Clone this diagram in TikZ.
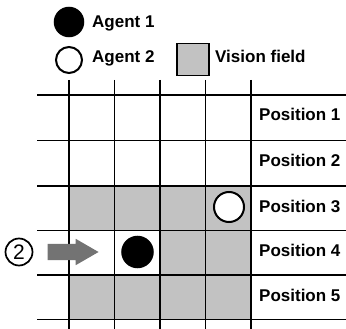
\documentclass[tikz,border=0pt]{standalone}
\usepackage{fontspec}
\setmainfont{Liberation Sans}
\usetikzlibrary{positioning,shapes.arrows}

\begin{document}
\begin{tikzpicture}[x=1pt, y=-1pt,
  label/.style={font=\fontsize{17}{19}\selectfont\bfseries, inner sep=0pt, anchor=base west},
  agentA/.style={circle, fill=black, draw=black, line width=1.5pt, inner sep=0pt},
  agentB/.style={circle, fill=white, draw=black, line width=2pt, inner sep=0pt},
  seen/.style={fill=black!24},
  gridline/.style={line width=1.4pt}
  ]
  \useasboundingbox (0,0) rectangle (346,329);
  % legend
  \node[agentA, minimum size=29pt] (leg1) at (69,22) {};
  \node[label] (legtxt1) at (92,28) {Agent 1};
  \node[agentB, minimum size=26pt] (leg2) at (69,60) {};
  \node[label] (legtxt2) at (92,63) {Agent 2};
  \node[seen, draw, line width=1.5pt, minimum size=32pt, inner sep=0pt] (legbox) at (193,59.5) {};
  \node[label] (legtxt3) at (215,63) {Vision field};
  % vision field
  \fill[seen] (69,186) rectangle (251,230.5);
  \fill[seen] (160,230.5) rectangle (251,275);
  \fill[seen] (69,275) rectangle (251,319.5);
  % grid
  \foreach \y in {95,140.5,186,230.5,275,319.5}
    \draw[gridline] (37,\y) -- (346,\y);
  \foreach \x in {69,114.5,160,205.5,251}
    \draw[gridline] (\x,80) -- (\x,329);
  \foreach \i/\y in {1/121,2/166.5,3/212,4/256.5,5/301}
    \node[label] (pos\i) at (259,\y) {Position \i};
  % agents
  \node[agentA, minimum size=31pt] (ag1) at (137.5,252) {};
  \node[agentB, minimum size=30pt] (ag2) at (229,207) {};
  % step 2
  \node[circle, draw, line width=1.7pt, minimum size=27pt, inner sep=0pt,
        font=\fontsize{21}{21}\selectfont] (step2) at (19,252) {2};
  \node[single arrow, fill=black!55, inner xsep=0pt, inner ysep=8pt,
        minimum height=51pt, single arrow head extend=5pt,
        single arrow tip angle=60, right=14pt of step2] (move) {};
\end{tikzpicture}
\end{document}
